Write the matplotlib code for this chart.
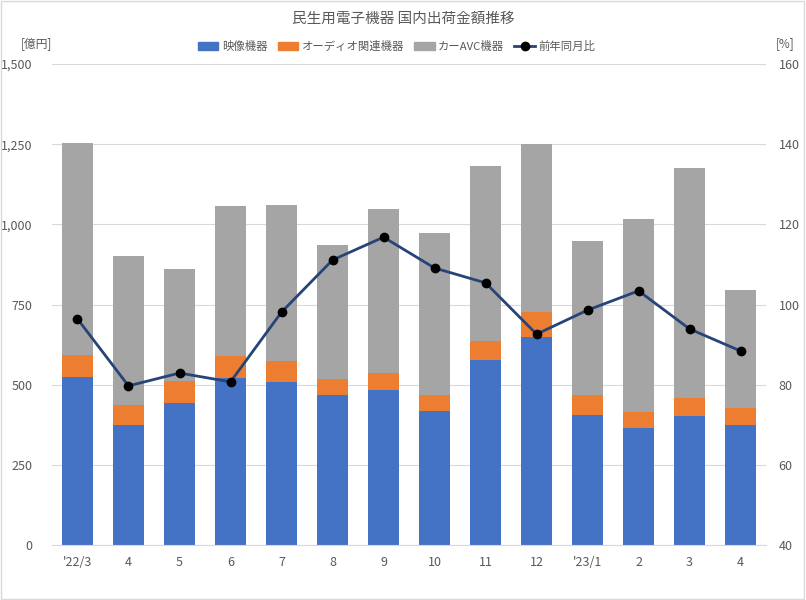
import matplotlib
matplotlib.use("Agg")
import matplotlib.pyplot as plt
from matplotlib.lines import Line2D
from matplotlib.patches import Patch, Rectangle
import numpy as np

plt.rcParams['font.family'] = ['Noto Sans CJK JP', 'DejaVu Sans']

categories = ["'22/3", "4", "5", "6", "7", "8", "9", "10", "11", "12", "'23/1", "2", "3", "4"]
video = [524, 374, 443, 521, 508, 468, 483, 418, 577, 649, 405, 365, 402, 374]
audio = [68, 63, 68, 68, 66, 50, 53, 50, 59, 78, 63, 50, 56, 53]
car_avc = [662, 464, 350, 468, 486, 417, 512, 505, 546, 523, 480, 602, 718, 368]
yoy = [96.4, 79.7, 82.9, 80.7, 98.1, 111.1, 116.8, 109.1, 105.4, 92.6, 98.6, 103.4, 93.9, 88.4]

c_video = '#4472C4'
c_audio = '#ED7D31'
c_car = '#A5A5A5'
c_line = '#264478'
text_c = '#595959'

fig = plt.figure(figsize=(8.06, 6.0), dpi=100)
fig.patches.append(Rectangle((0.001, 0.001), 0.997, 0.997, transform=fig.transFigure,
                             fill=False, edgecolor='#D9D9D9', linewidth=1))
ax = fig.add_axes([0.0645, 0.0917, 0.886, 0.8016])
x = np.arange(len(categories))
w = 0.62
v = np.array(video); a = np.array(audio); c = np.array(car_avc)
ax.bar(x, v, w, color=c_video, zorder=2)
ax.bar(x, a, w, bottom=v, color=c_audio, zorder=2)
ax.bar(x, c, w, bottom=v + a, color=c_car, zorder=2)
ax.set_ylim(0, 1500)
ax.set_xlim(-0.5, len(categories) - 0.5)
ax.set_yticks(np.arange(0, 1501, 250))
ax.set_yticklabels([f"{t:,}" for t in range(0, 1501, 250)])
ax.yaxis.grid(True, color='#D9D9D9', linewidth=0.8, zorder=0)
ax.set_axisbelow(True)
for s in ['top', 'right', 'left']:
    ax.spines[s].set_visible(False)
ax.spines['bottom'].set_color('#D9D9D9')
ax.tick_params(axis='both', length=0, colors=text_c, labelsize=9)
ax.tick_params(axis='x', pad=8)
ax.tick_params(axis='y', pad=14)
ax.set_xticks(x)
ax.set_xticklabels(categories)

ax2 = ax.twinx()
ax2.plot(x, yoy, color=c_line, linewidth=2, marker='o', markersize=6,
         markerfacecolor='black', markeredgecolor='black', zorder=3)
ax2.set_ylim(40, 160)
ax2.set_yticks(np.arange(40, 161, 20))
for s in ['top', 'right', 'left', 'bottom']:
    ax2.spines[s].set_visible(False)
ax2.tick_params(axis='y', length=0, colors=text_c, labelsize=9, pad=9)

fig.text(0.5, 0.968, "民生用電子機器 国内出荷金額推移", ha='center', va='center', fontsize=10.5, color=text_c)
fig.text(0.045, 0.927, "[億円]", ha='center', va='center', fontsize=8.5, color=text_c)
fig.text(0.974, 0.927, "[%]", ha='center', va='center', fontsize=8.5, color=text_c)

handles = [Patch(color=c_video), Patch(color=c_audio), Patch(color=c_car),
           Line2D([0], [0], color=c_line, linewidth=2, marker='o', markersize=6,
                  markerfacecolor='black', markeredgecolor='black')]
labels = ["映像機器", "オーディオ関連機器", "カーAVC機器", "前年同月比"]
fig.legend(handles, labels, loc='center', bbox_to_anchor=(0.492, 0.922), ncol=4,
           frameon=False, fontsize=8.2, labelcolor=text_c, handlelength=1.8,
           handletextpad=0.3, columnspacing=0.9, handleheight=0.7)

fig.savefig("out.png", dpi=100)
